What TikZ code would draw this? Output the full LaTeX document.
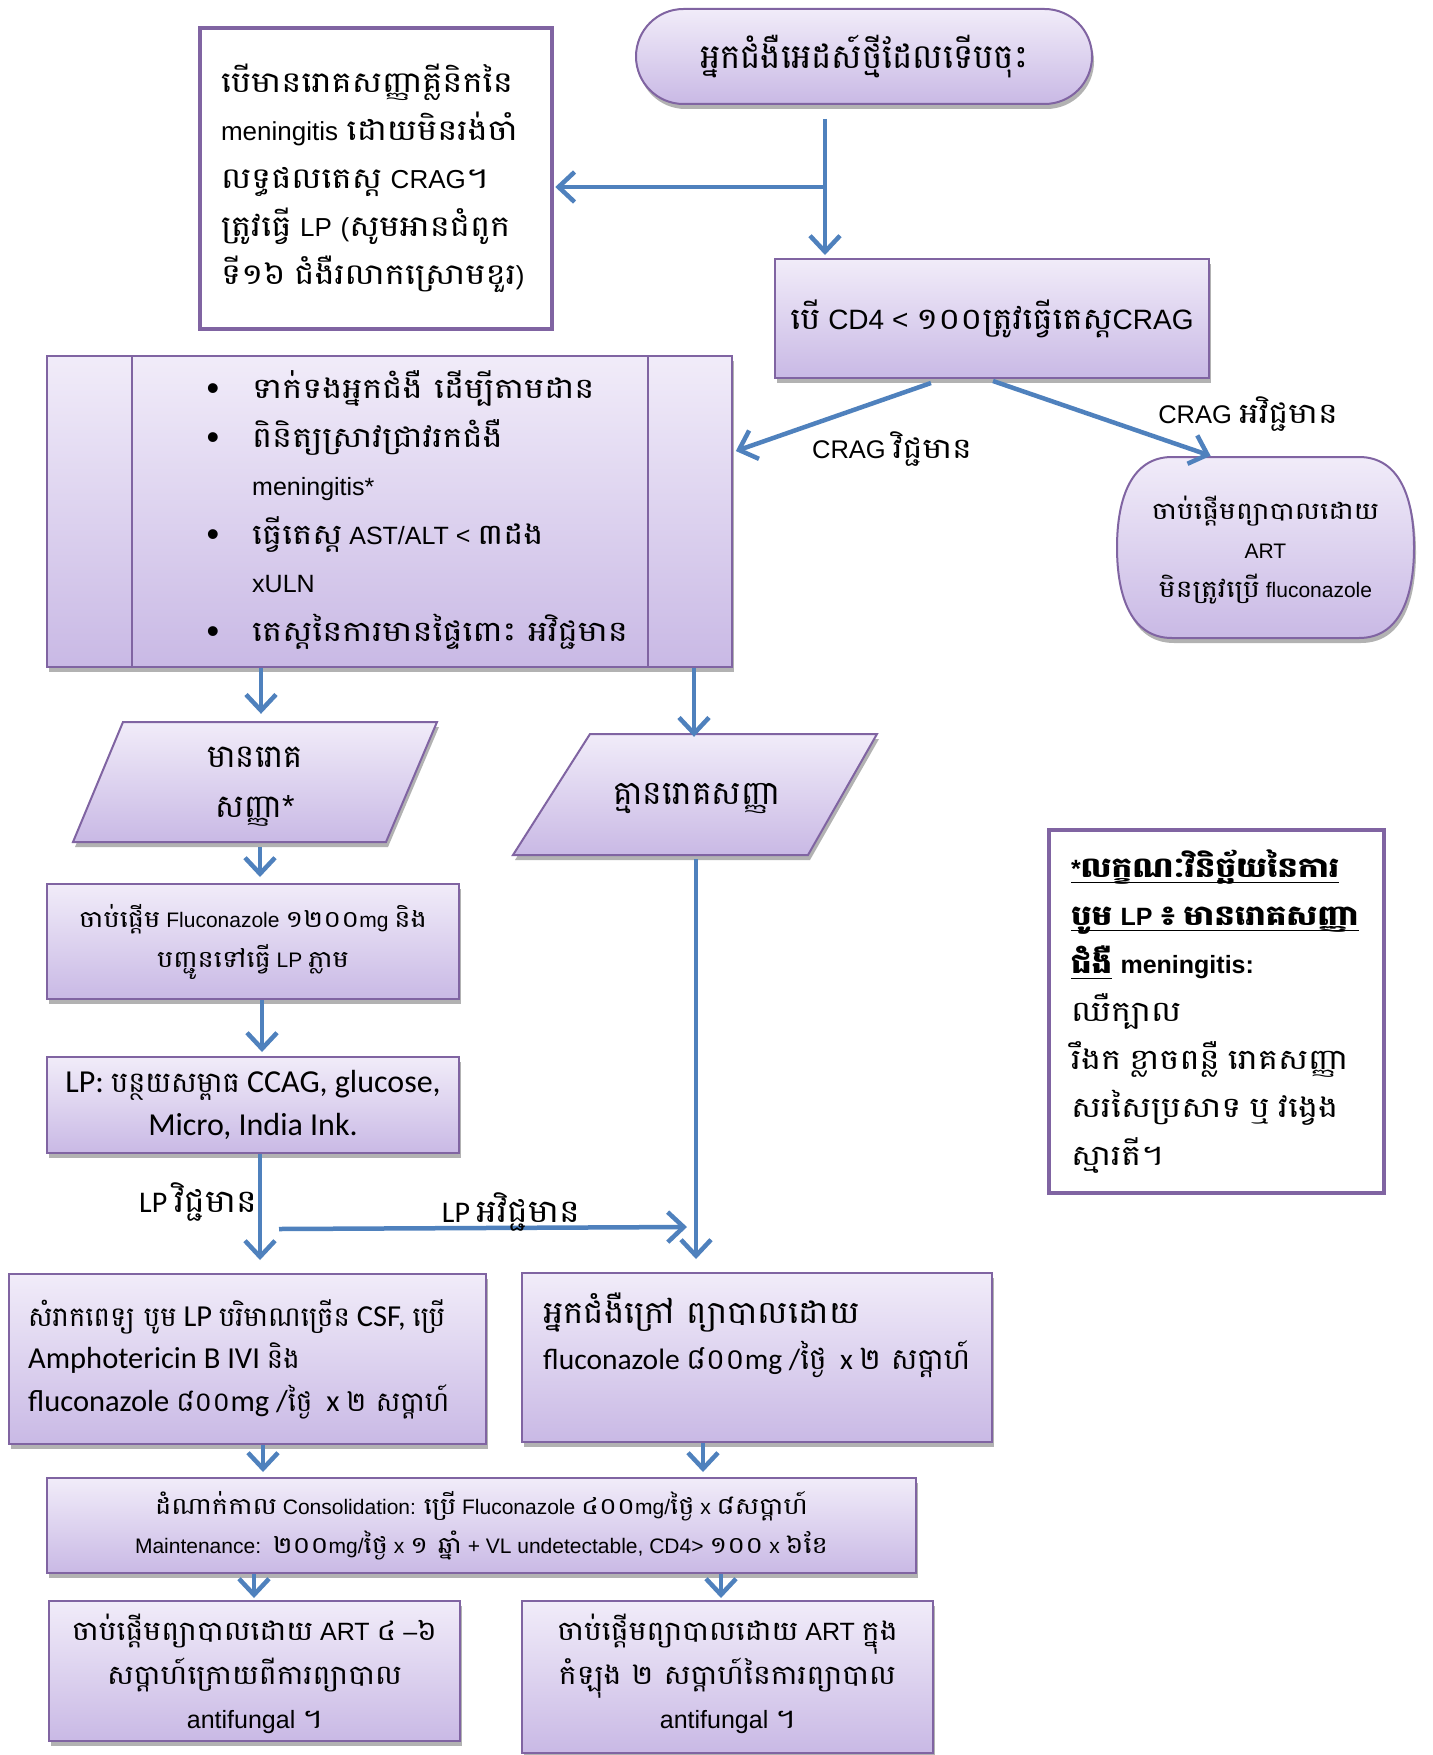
\documentclass[tikz,border=0pt]{standalone}
\usepackage{fontspec}
\setmainfont{Liberation Sans}
\newfontfamily\khA[Script=Khmer,Scale=0.9]{Battambang}
\newfontfamily\khB[Script=Khmer]{Battambang}
\newfontfamily\khC[Script=Khmer,Scale=1.06,FakeStretch=1.09]{Battambang}
\newfontfamily\khD[Script=Khmer,Scale=1.08,FakeStretch=1.11]{Battambang}
\newfontfamily\khE[Script=Khmer,Scale=1.12,FakeStretch=1.16]{Battambang}
\newfontfamily\khF[Script=Khmer,Scale=1.14,FakeStretch=1.18]{Battambang}
\newfontfamily\calfont{Carlito}
\usetikzlibrary{arrows.meta,shadows,shapes.misc,calc}

\definecolor{pborder}{RGB}{128,100,162}
\definecolor{ptop}{RGB}{241,236,249}
\definecolor{pbot}{RGB}{201,185,229}
\definecolor{ablue}{RGB}{79,129,189}

% Khmer run inside Latin text; \kh is chosen per box
\let\kh\khB
\newcommand\kk[1]{{\kh #1}}
% size and fixed line pitch
\newcommand\fs[2]{\fontsize{#1pt}{#2pt}\selectfont\lineskiplimit=-100pt\lineskip=0pt}
% underline drawn just below the baseline
\newcommand\uline[1]{\leavevmode\setbox0=\hbox{#1}\rlap{\rule[-6pt]{\wd0}{1.6pt}}\box0}
% list bullet hanging left of the text
\newcommand\bul{\llap{{\fontsize{36pt}{36pt}\selectfont\raisebox{-2pt}{\textbullet}}\hspace{33pt}}}

\tikzset{
  pbox/.style={draw=pborder, line width=2pt, top color=ptop, bottom color=pbot,
    drop shadow={shadow xshift=2pt, shadow yshift=-5pt, opacity=0.3, fill=black}},
  wbox/.style={draw=pborder, line width=4.5pt, fill=white},
  arr/.style={draw=ablue, line width=4.5pt, -{Straight Barb[length=16pt,width=30pt]}},
  txt/.style={inner sep=0pt},
}

\begin{document}
\begin{tikzpicture}[x=1pt,y=-1pt]
\fill[white] (0,0) rectangle (1432,1755);
\useasboundingbox (0,0) rectangle (1432,1755);

% ---------- boxes ----------
\node[pbox, rounded rectangle, minimum width=456pt, minimum height=95pt, inner sep=0pt,
      font=\fs{34}{40}] (start) at (864,56.5) {\kk{អ្នកជំងឺអេដស៍ថ្មីដែលទើបចុះ}};

\node[wbox, minimum width=352pt, minimum height=301pt, inner sep=0pt, text width=310pt,
      align=left, font={\fs{26}{48}\let\kh\khE}] (tl) at (376,178.5)
  {\kk{បើមានរោគសញ្ញាគ្លីនិកនៃ}\\
   meningitis \kk{ដោយមិនរង់ចាំ}\\
   \kk{លទ្ធផលតេស្ត} CRAG\kk{។}\\
   \kk{ត្រូវធ្វើ} LP (\kk{សូមអានជំពូក}\\
   \kk{ទី១៦ ជំងឺរលាកស្រោមខួរ})};

\node[pbox, minimum width=434pt, minimum height=119pt, inner sep=0pt,
      font={\fs{28}{30}\let\kh\khD}] (cd4) at (992,318.5)
  {\kk{បើ} CD4 < \kk{១០០ត្រូវធ្វើតេស្ត}CRAG};

\node[pbox, minimum width=685pt, minimum height=311pt, inner sep=0pt] (blt) at (389.5,511.5) {};
\draw[pborder, line width=2pt] ([xshift=86pt]blt.north west) -- ([xshift=86pt]blt.south west);
\draw[pborder, line width=2pt] ([xshift=-85pt]blt.north east) -- ([xshift=-85pt]blt.south east);
\node[txt, anchor=west, align=left, font={\fs{25}{48.5}\let\kh\khF}] (bltx) at (252,510)
  {\bul\kk{ទាក់ទងអ្នកជំងឺ ដើម្បីតាមដាន}\\
   \bul\kk{ពិនិត្យស្រាវជ្រាវរកជំងឺ}\\
   meningitis*\\
   \bul\kk{ធ្វើតេស្ត} AST/ALT < \kk{៣ដង}\\
   xULN\\
   \bul\kk{តេស្តនៃការមានផ្ទៃពោះ អវិជ្ជមាន}};

% treatment box with bulging sides
\path[pbox] (1172,457) -- (1359,457)
  .. controls (1399,457) and (1414,497) .. (1414,547.5)
  .. controls (1414,598) and (1399,638) .. (1359,638)
  -- (1172,638)
  .. controls (1132,638) and (1117,598) .. (1117,547.5)
  .. controls (1117,497) and (1132,457) .. cycle;
\node[txt, minimum width=297pt, minimum height=181pt, align=center,
      font={\fs{21}{39}\let\kh\khF}] (art) at (1265.5,550.5)
  {\kk{ចាប់ផ្តើមព្យាបាលដោយ}\\ ART\\ \kk{មិនត្រូវប្រើ} fluconazole};

% parallelograms
\path[pbox] (123,722) -- (437,722) -- (386,842) -- (73,842) -- cycle;
\node[txt, minimum width=300pt, minimum height=120pt, align=center, font=\fs{32}{50}]
  (p1) at (255,787) {\kk{មានរោគ}\\\kk{សញ្ញា}*};
\path[pbox] (590,734) -- (877,734) -- (808,855) -- (513,855) -- cycle;
\node[txt, minimum width=280pt, minimum height=121pt, align=center, font=\fs{33}{36}]
  (p2) at (697,798.5) {\kk{គ្មានរោគសញ្ញា}};

\node[pbox, minimum width=412pt, minimum height=115pt, inner sep=0pt, align=center,
      font={\fs{21}{40}\let\kh\khE}] (flu) at (253,941.5)
  {\kk{ចាប់ផ្តើម} Fluconazole \kk{១២០០}mg \kk{និង}\\\kk{បញ្ជូនទៅធ្វើ} LP \kk{ភ្លាម}};

\node[pbox, minimum width=412pt, minimum height=96pt, inner sep=0pt, align=center,
      font={\calfont\fs{32}{43}\let\kh\khA}] (lp) at (253,1105)
  {LP: \kk{បន្ថយសម្ពាធ} CCAG, glucose,\\ Micro, India Ink.};

\node[pbox, minimum width=477pt, minimum height=170pt, inner sep=0pt] (amb) at (247.5,1359) {};
\node[txt, anchor=west, align=left, font={\calfont\fs{30.5}{42.5}\let\kh\khA}] (ambx) at (28,1359)
  {\kk{សំរាកពេទ្យ បូម} LP \kk{បរិមាណច្រើន} CSF, \kk{ប្រើ}\\
   Amphotericin B IVI \kk{និង}\\
   fluconazole \kk{៨០០}mg /\kk{ថ្ងៃ}\ \ x \kk{២ សប្តាហ៍}};

\node[pbox, minimum width=470pt, minimum height=169pt, inner sep=0pt] (out) at (757,1357.5) {};
\node[txt, anchor=north west, align=left, font=\calfont\fs{29.5}{46}] (outx) at (543,1293)
  {{\khC អ្នកជំងឺក្រៅ ព្យាបាលដោយ}\\
   fluconazole \kk{៨០០}mg /\kk{ថ្ងៃ}\ \ x \kk{២ សប្តាហ៍}};

\node[pbox, minimum width=869pt, minimum height=95pt, inner sep=0pt, align=center,
      font={\fs{21}{39}\let\kh\khE}] (cons) at (481.5,1525.5)
  {\kk{ដំណាក់កាល} Consolidation: \kk{ប្រើ} Fluconazole \kk{៤០០}mg/\kk{ថ្ងៃ} x \kk{៨សប្តាហ៍}\\
   Maintenance:\ \ \kk{២០០}mg/\kk{ថ្ងៃ} x \kk{១ ឆ្នាំ} + VL undetectable, CD4> \kk{១០០} x \kk{៦ខែ}};

\node[pbox, minimum width=411pt, minimum height=140pt, inner sep=0pt] (bl) at (254.5,1671) {};
\node[txt, align=center, font={\fs{25}{44}\let\kh\khD}] (blx) at (254.5,1674)
  {\kk{ចាប់ផ្តើមព្យាបាលដោយ} ART \kk{៤} –\kk{៦}\\
   \kk{សប្តាហ៍ក្រោយពីការព្យាបាល}\\
   antifungal \kk{។}};

\node[pbox, minimum width=411pt, minimum height=152pt, inner sep=0pt] (br) at (727.5,1677) {};
\node[txt, align=center, font={\fs{25}{44}\let\kh\khD}] (brx) at (727.5,1674)
  {\kk{ចាប់ផ្តើមព្យាបាលដោយ} ART \kk{ក្នុង}\\
   \kk{កំឡុង ២ សប្តាហ៍នៃការព្យាបាល}\\
   antifungal \kk{។}};

\node[wbox, minimum width=335pt, minimum height=363pt, inner sep=0pt, text width=291pt,
      align=left, font={\fs{25}{48}\let\kh\khF}] (note) at (1216.5,1011.5)
  {\leavevmode{\bfseries\let\kh\khE\uline{*\kk{លក្ខណៈវិនិច្ឆ័យនៃការ}}}\\
   \leavevmode{\bfseries\let\kh\khE\uline{\kk{បូម} LP \kk{៖ មានរោគសញ្ញា}}}\\
   \leavevmode{\bfseries\let\kh\khE\uline{\kk{ជំងឺ}}\ meningitis:}\\
   \kk{ឈឺក្បាល}\\
   \kk{រឹងក ខ្លាចពន្លឺ រោគសញ្ញា}\\
   \kk{សរសៃប្រសាទ ឬ វង្វេង}\\
   \kk{ស្មារតី។}};

% ---------- connectors ----------
\coordinate (s0) at ([xshift=-39pt,yshift=-14pt]start.south);
\draw[arr, shorten >=3pt] (s0) -- (s0 |- cd4.north);
\coordinate (s1) at ([yshift=-68pt]s0);
\draw[arr, shorten >=1pt] (s1) -- (s1 -| tl.east);

\draw[arr, shorten >=3pt] ($(cd4.south west)!0.36!(cd4.south east)+(0,4)$)
  -- ($(blt.north east)!0.31!(blt.south east)$);
\draw[arr, shorten >=3pt] ($(cd4.south)+(1,2)$) -- ($(art.north)!0.35!(art.north west)+(0,-3)$);

\coordinate (b1) at ([xshift=-128.5pt]blt.south);
\draw[arr, shorten >=13pt] (b1) -- (b1 |- p1.north);
\coordinate (b2) at ([xshift=304.5pt]blt.south);
\draw[arr, shorten >=1pt] (b2) -- (b2 |- p2.north);

\coordinate (c1) at ([xshift=5pt]p1.south);
\draw[arr, shorten >=6pt] (c1) -- (c1 |- flu.north);
\coordinate (c2) at ([xshift=9pt]flu.south);
\draw[arr, shorten >=4pt] (c2) -- (c2 |- lp.north);
\coordinate (c3) at ([xshift=7pt]lp.south);
\draw[arr, shorten >=13pt] (c3) -- (c3 |- amb.north);

\coordinate (h0) at ([xshift=26pt,yshift=-75pt]lp.south);
\coordinate (h1) at ([xshift=-70pt,yshift=45pt]out.north);
\draw[arr] (h0) -- (h1);

\coordinate (c4) at ([xshift=-1pt]p2.south);
\draw[arr, shorten >=13pt] (c4) -- (c4 |- out.north);

\coordinate (c5) at ([xshift=15.5pt]amb.south);
\draw[arr, shorten >=5pt] (c5) -- (c5 |- cons.north);
\coordinate (c6) at ([xshift=-54pt]out.south);
\draw[arr, shorten >=5pt] (c6) -- (c6 |- cons.north);
\coordinate (c7) at ([xshift=-227.5pt]cons.south);
\draw[arr, shorten >=2pt] (c7) -- (c7 |- bl.north);
\coordinate (c8) at ([xshift=239.5pt]cons.south);
\draw[arr, shorten >=2pt] (c8) -- (c8 |- br.north);

% ---------- connector labels ----------
\node[txt, font={\fs{25.5}{30}\let\kh\khE}] (lcp) at (892,449) {CRAG \kk{វិជ្ជមាន}};
\node[txt, font={\fs{25.5}{30}\let\kh\khE}] (lcn) at (1248,414) {CRAG \kk{អវិជ្ជមាន}};
\node[txt, font={\calfont\fs{30}{34}\let\kh\khC}] (llp) at (198,1202) {LP \kk{វិជ្ជមាន}};
\node[txt, font={\calfont\fs{30}{34}\let\kh\khC}] (lln) at (511,1212) {LP \kk{អវិជ្ជមាន}};
\end{tikzpicture}
\end{document}
